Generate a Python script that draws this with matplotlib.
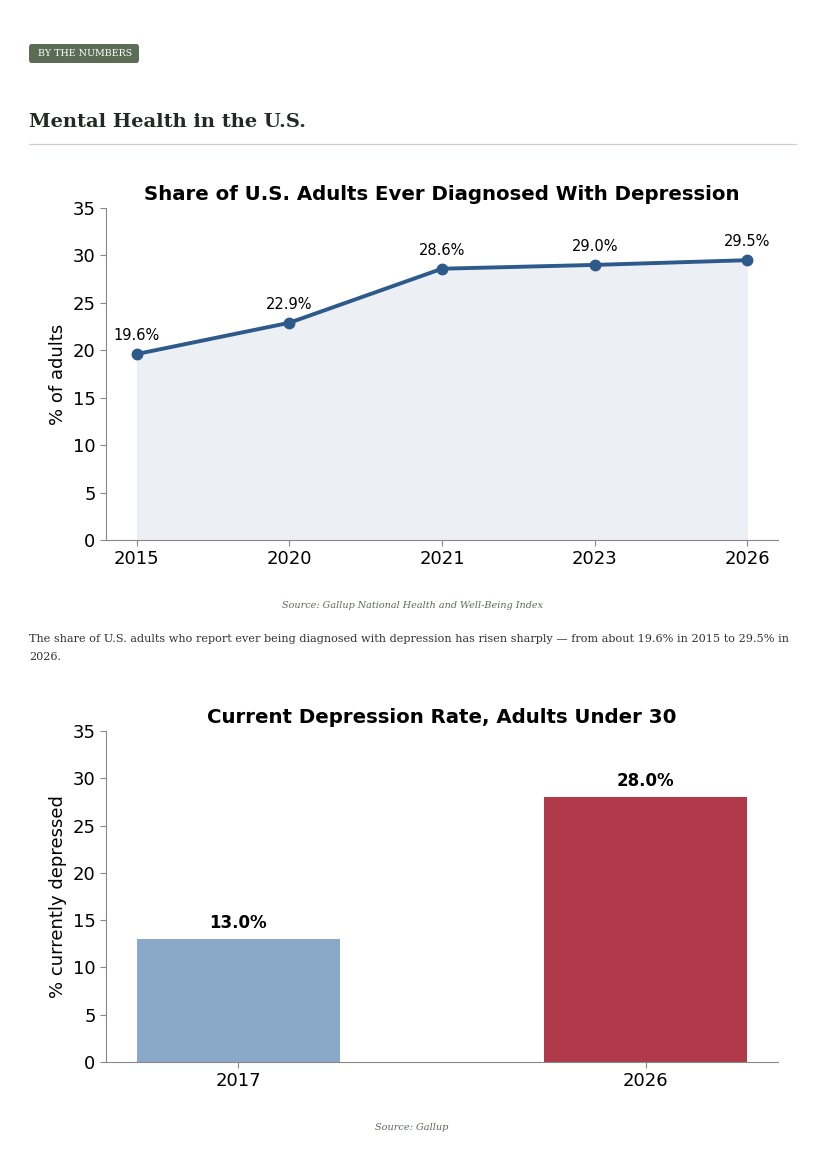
from matplotlib import pyplot as plt
from matplotlib.lines import Line2D
from matplotlib.patches import FancyBboxPatch

# data
years_diag = ["2015", "2020", "2021", "2023", "2026"]
share_diag = [19.6, 22.9, 28.6, 29.0, 29.5]

years_current = ["2017", "2026"]
rate_current = [13.0, 28.0]
bar_colors = ["#8aa8c8", "#b03a4a"]

line_color = "#2d5a8a"
spine_color = "#888888"

W, H = 827, 1170
fig = plt.figure(figsize=(8.27, 11.7), dpi=100)

# header block - badge, page title, rule
fig.add_artist(FancyBboxPatch((29 / W, 1 - 63 / H), 110 / W, 19 / H,
                              boxstyle="round,pad=0,rounding_size=0.003",
                              facecolor="#5b6e55", edgecolor="none", transform=fig.transFigure))
fig.text(38.5 / W, 1 - 53.5 / H, "BY THE NUMBERS", family="DejaVu Serif", fontsize=6.8,
         color="white", va="center", ha="left")
fig.text(29 / W, 1 - 122 / H, "Mental Health in the U.S.", family="DejaVu Serif",
         fontweight="bold", fontsize=14, color="#1f2b24", va="center", ha="left")
fig.add_artist(Line2D([29 / W, 796 / W], [1 - 144 / H, 1 - 144 / H],
                      color="#c5d3cc", linewidth=0.9, transform=fig.transFigure))

def style_axes(ax):
    ax.spines["top"].set_visible(False)
    ax.spines["right"].set_visible(False)
    for s in ("left", "bottom"):
        ax.spines[s].set_color(spine_color)
    ax.tick_params(colors="black", labelsize=13, length=4)
    ax.tick_params(axis="both", color=spine_color)

# chart 1 - line
ax1 = fig.add_axes([106 / W, 1 - 540 / H, 672 / W, 332 / H])
x1 = range(len(years_diag))
ax1.fill_between(x1, share_diag, 0, color=line_color, alpha=0.09, linewidth=0)
ax1.plot(x1, share_diag, color=line_color, linewidth=2.8, marker="o", markersize=7.5)
for xi, v in zip(x1, share_diag):
    ax1.annotate(f"{v:.1f}%", (xi, v), xytext=(0, 8), textcoords="offset points",
                 ha="center", va="bottom", fontsize=10.5)
ax1.set_ylim(0, 35)
ax1.set_xticks(list(x1))
ax1.set_xticklabels(years_diag)
ax1.set_ylabel("% of adults", fontsize=13)
ax1.set_title("Share of U.S. Adults Ever Diagnosed With Depression", fontsize=14.2, fontweight="bold")
style_axes(ax1)

fig.text(412 / W, 1 - 605 / H, "Source: Gallup National Health and Well-Being Index",
         family="DejaVu Serif", style="italic", fontsize=6.9, color="#5a6a55", ha="center", va="center")
fig.text(29 / W, 1 - 639 / H,
         "The share of U.S. adults who report ever being diagnosed with depression has risen sharply \u2014 from about 19.6% in 2015 to 29.5% in",
         family="DejaVu Serif", fontsize=8.1, color="#333333", ha="left", va="center")
fig.text(29 / W, 1 - 657 / H, "2026.",
         family="DejaVu Serif", fontsize=8.1, color="#333333", ha="left", va="center")

# chart 2 - bars
ax2 = fig.add_axes([106 / W, 1 - 1062 / H, 672 / W, 331 / H])
x2 = range(len(years_current))
ax2.bar(x2, rate_current, width=0.5, color=bar_colors)
for xi, v in zip(x2, rate_current):
    ax2.annotate(f"{v:.1f}%", (xi, v), xytext=(0, 5), textcoords="offset points",
                 ha="center", va="bottom", fontsize=12, fontweight="bold")
ax2.set_ylim(0, 35)
ax2.set_xticks(list(x2))
ax2.set_xticklabels(years_current)
ax2.set_ylabel("% currently depressed", fontsize=13)
ax2.set_title("Current Depression Rate, Adults Under 30", fontsize=14.2, fontweight="bold")
style_axes(ax2)

fig.text(412 / W, 1 - 1127 / H, "Source: Gallup",
         family="DejaVu Serif", style="italic", fontsize=7, color="#5a6a55", ha="center", va="center")

plt.savefig("out.png", dpi=100)
